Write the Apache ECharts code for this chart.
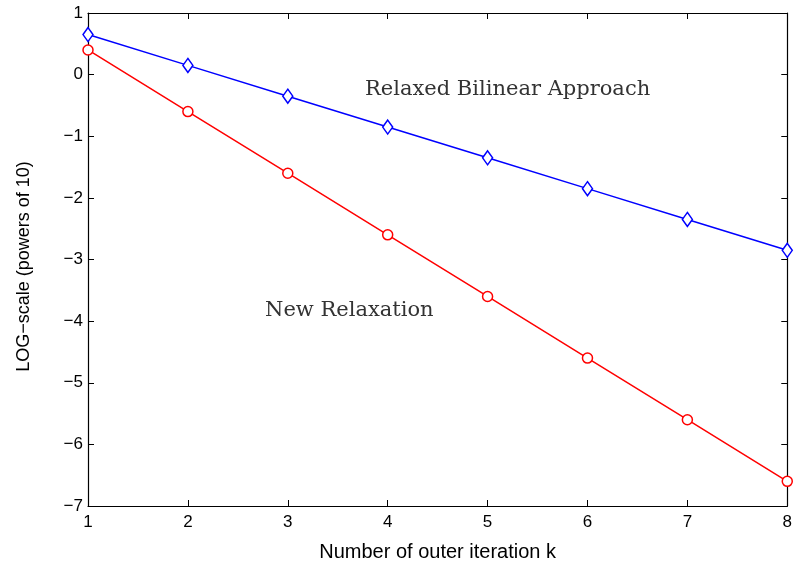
<!DOCTYPE html>
<html>
<head>
<meta charset="utf-8">
<script src="https://cdn.jsdelivr.net/npm/echarts@6/dist/echarts.min.js"></script>
<style>
  html, body { margin: 0; padding: 0; background: #fff; }
  #chart { width: 795px; height: 567px; }
</style>
</head>
<body>
<div id="chart"></div>
<script>
// Outer iteration counts and log10 residuals for each method
const iterations = [1, 2, 3, 4, 5, 6, 7, 8];
const bilinearLog = [0.65, 0.15, -0.35, -0.85, -1.35, -1.85, -2.35, -2.85];
const newRelaxLog = [0.4, -0.6, -1.6, -2.6, -3.6, -4.6, -5.6, -6.6];
const yTicks = [-7, -6, -5, -4, -3, -2, -1, 0, 1];

const chart = echarts.init(document.getElementById('chart'));
const sans = 'Liberation Sans, Arial, sans-serif';
const serif = 'DejaVu Serif, Liberation Serif, serif';

const axisLine = { show: true, onZero: false, lineStyle: { color: '#000', width: 1.2 } };
const tickIn = { show: true, inside: true, length: 6, lineStyle: { color: '#000', width: 1 } };

chart.setOption({
  animation: false,
  backgroundColor: '#fff',
  grid: { left: 88, top: 13, right: 3, bottom: 61, containLabel: false },
  xAxis: [
    {
      type: 'value', min: 1, max: 8, interval: 1,
      name: 'Number of outer iteration k', nameLocation: 'middle', nameGap: 36,
      nameTextStyle: { fontFamily: sans, fontSize: 20, color: '#000' },
      axisLine, axisTick: tickIn, splitLine: { show: false },
      axisLabel: { fontFamily: sans, fontSize: 17, color: '#000', margin: 8 }
    },
    {
      type: 'value', position: 'top', min: 1, max: 8, interval: 1,
      axisLine, axisTick: tickIn, splitLine: { show: false }, axisLabel: { show: false }
    }
  ],
  yAxis: [
    {
      type: 'value', min: yTicks[0], max: yTicks[yTicks.length - 1], interval: 1,
      name: 'LOG\u2212scale (powers of 10)', nameLocation: 'middle', nameGap: 55,
      nameTextStyle: { fontFamily: sans, fontSize: 18, color: '#000', padding: [0, 14, 0, 0] },
      axisLine, axisTick: tickIn, splitLine: { show: false },
      axisLabel: {
        fontFamily: sans, fontSize: 17, color: '#000', margin: 5,
        formatter: v => (v < 0 ? '\u2212' + Math.abs(v) : String(v))
      }
    },
    {
      type: 'value', position: 'right', min: yTicks[0], max: yTicks[yTicks.length - 1], interval: 1,
      axisLine, axisTick: tickIn, splitLine: { show: false }, axisLabel: { show: false }
    }
  ],
  series: [
    {
      name: 'Relaxed Bilinear Approach', type: 'line',
      data: iterations.map((k, i) => [k, bilinearLog[i]]),
      lineStyle: { color: '#0000ff', width: 1.5 },
      symbol: 'diamond', symbolSize: [10, 14], showAllSymbol: true,
      itemStyle: { color: '#fff', borderColor: '#0000ff', borderWidth: 1.5 },
      clip: false, z: 3
    },
    {
      name: 'New Relaxation', type: 'line',
      data: iterations.map((k, i) => [k, newRelaxLog[i]]),
      lineStyle: { color: '#ff0000', width: 1.5 },
      symbol: 'circle', symbolSize: 10, showAllSymbol: true,
      itemStyle: { color: '#fff', borderColor: '#ff0000', borderWidth: 1.5 },
      clip: false, z: 3
    }
  ],
  graphic: [
    {
      type: 'text', left: 365, top: 79,
      style: { text: 'Relaxed Bilinear Approach', fontFamily: serif, fontSize: 21, fill: '#333' }
    },
    {
      type: 'text', left: 265, top: 300,
      style: { text: 'New Relaxation', fontFamily: serif, fontSize: 21, fill: '#333' }
    }
  ]
});
</script>
</body>
</html>
